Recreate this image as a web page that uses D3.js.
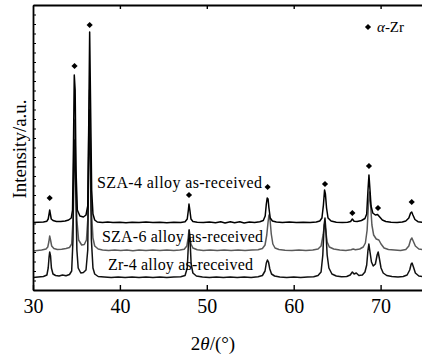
<!DOCTYPE html>
<html>
<head>
<meta charset="utf-8">
<script src="https://cdn.jsdelivr.net/npm/d3@7"></script>
<style>
  body { margin: 0; background: #fff; }
  svg text { font-family: "Liberation Serif", "Times New Roman", Times, serif; fill: #000; }
</style>
</head>
<body>
<svg id="chart" width="422" height="360"></svg>
<script>
// x ticks (2theta, degrees)
var xTicks = [30, 40, 50, 60, 70];

// XRD traces, [2theta, intensity (stacked, a.u.)]
var sza4 = [[30.0,67.5],[30.6,67.8],[31.2,68],[31.6,68.8],[31.75,71],[31.85,76],[31.92,80],[32.0,76],[32.1,71],[32.3,69.5],[32.7,68.5],[33.2,68.5],[33.7,69],[34.1,70],[34.4,72],[34.55,80],[34.65,140],[34.75,215],[34.85,200],[34.95,120],[35.1,80],[35.4,74],[35.8,73],[36.1,75],[36.3,84],[36.42,170],[36.52,258],[36.62,190],[36.75,100],[36.9,76],[37.1,70],[37.4,68],[38,67.5],[38.6,68],[39.2,67.4],[40,67.8],[40.7,67.3],[41.4,67.8],[42.2,67.4],[43,67.9],[43.8,67.4],[44.6,67.8],[45.4,67.3],[46.2,67.8],[47,67.6],[47.5,68.3],[47.75,71],[47.88,80],[47.95,86],[48.05,80],[48.18,71],[48.4,68.5],[48.9,67.8],[49.6,67.4],[50.3,67.9],[51,67.2],[51.6,68.2],[52.1,67.1],[52.7,68.3],[53.2,67.2],[53.8,68.2],[54.3,67.1],[54.9,67.9],[55.5,67.5],[56.1,68.2],[56.5,69.5],[56.72,74],[56.85,86],[56.95,92],[57.05,91],[57.15,82],[57.3,72],[57.55,69],[58,68],[58.7,67.5],[59.5,67.9],[60.3,67.4],[61.1,67.8],[61.9,67.5],[62.6,68],[63.0,69],[63.25,72],[63.42,85],[63.55,100],[63.65,96],[63.78,82],[63.95,72],[64.3,69],[64.9,67.8],[65.6,67.5],[66.2,67.8],[66.55,68.5],[66.75,71],[66.95,68.8],[67.3,68.5],[67.8,69.5],[68.2,71.5],[68.4,76],[68.55,100],[68.66,115],[68.78,100],[68.9,84],[69.1,77],[69.4,75],[69.65,75.5],[69.9,73],[70.2,70],[70.6,68.5],[71.2,67.8],[71.9,67.5],[72.5,68],[72.9,69],[73.25,72],[73.45,77],[73.58,78],[73.72,75],[73.95,70.5],[74.3,68.3],[74.8,67.8],[75,67.6]];

var sza6 = [[30,39],[30.5,39.5],[31,40],[31.5,41],[31.7,43],[31.82,48],[31.92,54],[32.02,50],[32.15,44],[32.4,41.5],[32.8,40.5],[33.3,40.8],[33.8,41.5],[34.2,42.5],[34.45,46],[34.6,70],[34.72,150],[34.8,170],[34.9,130],[35.05,70],[35.25,50],[35.6,45],[35.9,45.5],[36.15,50],[36.3,70],[36.42,160],[36.5,200],[36.6,150],[36.72,80],[36.9,52],[37.1,44],[37.5,41],[38,40],[38.7,39.6],[39.4,40.1],[40.1,39.5],[40.8,40],[41.5,39.3],[42.2,39.9],[43,39.4],[43.8,40],[44.6,39.4],[45.4,39.9],[46.2,39.5],[46.9,40],[47.4,40.8],[47.7,44],[47.85,52],[47.95,60],[48.05,54],[48.18,46],[48.4,42],[48.9,40.2],[49.6,39.6],[50.4,40],[51.2,39.4],[52,40.1],[52.8,39.5],[53.6,40],[54.4,39.4],[55.2,39.9],[55.9,40.3],[56.4,41.5],[56.7,45],[56.9,55],[57.05,68],[57.15,75],[57.28,70],[57.42,56],[57.6,46],[57.85,42],[58.3,40.5],[59,39.8],[59.8,39.5],[60.6,40],[61.4,39.5],[62.2,40],[62.8,41],[63.15,44],[63.38,55],[63.55,66],[63.68,60],[63.85,48],[64.1,43],[64.6,41],[65.3,40],[66,39.6],[66.6,40.2],[66.85,41],[67.1,40.3],[67.6,41],[68.0,43],[68.25,47],[68.45,60],[68.6,85],[68.72,98],[68.85,85],[69.0,65],[69.2,55],[69.5,51],[69.8,50],[70.05,46],[70.4,42],[70.9,40.5],[71.6,40],[72.3,39.6],[72.9,40.5],[73.25,44],[73.45,50],[73.6,52],[73.75,49],[74,44],[74.4,41],[75,40]];

var zr4 = [[30,12.5],[30.6,13],[31.2,13.5],[31.6,15],[31.75,22],[31.85,33],[31.92,38],[32.02,34],[32.12,22],[32.3,16],[32.6,14.5],[33,14],[33.4,15],[33.8,14.2],[34.2,15.5],[34.45,19],[34.6,50],[34.72,130],[34.8,150],[34.9,110],[35.05,40],[35.2,22],[35.5,17],[35.8,17.5],[36.1,20],[36.3,40],[36.42,140],[36.5,180],[36.6,130],[36.72,50],[36.9,22],[37.1,16],[37.5,13.5],[38.2,13],[39,12.5],[39.8,13],[40.6,12.4],[41.4,12.9],[42.2,12.4],[43,13],[43.8,12.5],[44.6,12.9],[45.4,12.4],[46.2,12.9],[47,13.2],[47.5,14.5],[47.75,22],[47.88,45],[47.98,60],[48.08,48],[48.2,26],[48.4,17],[48.8,14],[49.5,13],[50.3,12.6],[51.1,13],[51.9,12.4],[52.7,12.9],[53.5,12.5],[54.3,12.9],[55.1,12.4],[55.9,13.2],[56.4,14.5],[56.7,19],[56.85,27],[56.98,30],[57.1,28],[57.25,21],[57.45,16],[57.8,14],[58.4,13],[59.2,12.6],[60,13],[60.8,12.5],[61.6,12.9],[62.3,13.2],[62.8,14.5],[63.15,18],[63.35,35],[63.5,65],[63.6,72],[63.7,60],[63.85,35],[64.05,22],[64.4,16],[64.9,14],[65.5,13.2],[66.1,13.5],[66.5,15],[66.75,18],[66.95,16],[67.2,17],[67.5,14.5],[67.9,15],[68.2,18],[68.4,25],[68.55,40],[68.65,46],[68.78,38],[68.95,28],[69.15,24],[69.4,26],[69.6,35],[69.72,38],[69.85,32],[70.05,22],[70.3,17],[70.7,14.5],[71.3,13.5],[72,13],[72.6,13.5],[73.05,15],[73.35,20],[73.52,26],[73.62,27],[73.78,23],[74,17],[74.4,14],[75,13]];

// alpha-Zr peak markers above the SZA-4 trace
var peakMarks = [[31.92,92],[34.78,224],[36.52,265],[47.95,95],[57.0,103],[63.6,106],[66.75,77],[68.66,124],[69.7,82],[73.58,88]];

var seriesNames = ["SZA-4 alloy as-received", "SZA-6 alloy as-received", "Zr-4 alloy as-received"];
var labelAnchors = [[37.36,102],[37.94,48.3],[38.63,20]];
var labelWidths = [165, 161, 145];

var margin = { top: 5, left: 33, bottom: 70 };
var W = 422, H = 360;
var plotH = H - margin.top - margin.bottom;
var serif = '"Liberation Serif", "Times New Roman", Times, serif';

var x = d3.scaleLinear().domain([30, 75]).range([margin.left, margin.left + 45 * 8.69]);
var y = d3.scaleLinear().domain([0, 285]).range([H - margin.bottom, margin.top]);

var svg = d3.select("#chart");

svg.append("clipPath").attr("id", "clip")
  .append("rect")
  .attr("x", margin.left).attr("y", margin.top)
  .attr("width", W - margin.left).attr("height", plotH);

var line = d3.line().x(d => x(d[0])).y(d => y(d[1]));

var traces = [
  { data: sza6, color: "#5a5a5a" },
  { data: zr4, color: "#111" },
  { data: sza4, color: "#000" }
];

svg.append("g").attr("clip-path", "url(#clip)")
  .selectAll("path")
  .data(traces)
  .enter().append("path")
  .attr("d", d => line(d.data))
  .attr("fill", "none")
  .attr("stroke", d => d.color)
  .attr("stroke-width", 1.5)
  .attr("stroke-linejoin", "round");

// diamonds
var diamond = d3.symbol().type(d3.symbolSquare).size(19);
svg.append("g").selectAll("path")
  .data(peakMarks)
  .enter().append("path")
  .attr("d", diamond)
  .attr("transform", d => "translate(" + x(d[0]) + "," + y(d[1]) + ") rotate(45)")
  .attr("fill", "#000");

// trace labels
svg.append("g").selectAll("text")
  .data(seriesNames)
  .enter().append("text")
  .attr("x", (d, i) => x(labelAnchors[i][0]))
  .attr("y", (d, i) => y(labelAnchors[i][1]))
  .attr("textLength", (d, i) => labelWidths[i])
  .attr("lengthAdjust", "spacing")
  .style("font-family", serif)
  .style("font-size", "16px")
  .text(d => d);

// axes
var xBottom = d3.axisBottom(x).tickValues(xTicks).tickSize(-5).tickPadding(10).tickSizeOuter(0);
var gx = svg.append("g")
  .attr("transform", "translate(0," + (H - margin.bottom) + ")")
  .call(xBottom);
gx.attr("font-family", null);
gx.select(".domain").attr("stroke-width", 1.8);
gx.selectAll(".tick line").attr("stroke-width", 1.4);
gx.selectAll(".tick text")
  .style("font-family", serif)
  .style("font-size", "20px")
  .attr("y", 9);

var xTop = d3.axisTop(x).tickValues(xTicks.slice(1)).tickSize(-4).tickFormat("").tickSizeOuter(0);
var gt = svg.append("g")
  .attr("transform", "translate(0," + margin.top + ")")
  .call(xTop);
gt.select(".domain").attr("stroke-width", 1.8);
gt.selectAll(".tick line").attr("stroke-width", 1.4);

var yTicks = d3.range(0, 286, 9.5);
var gy = svg.append("g")
  .attr("transform", "translate(" + margin.left + ",0)")
  .call(d3.axisLeft(y).tickValues(yTicks).tickSize(-3).tickFormat("").tickSizeOuter(0));
gy.select(".domain").attr("stroke-width", 1.8);
gy.selectAll(".tick line").attr("stroke-width", 1);

// axis titles
var xt = svg.append("text")
  .attr("x", 213).attr("y", 350)
  .attr("text-anchor", "middle")
  .style("font-family", serif)
  .style("font-size", "19px");
xt.append("tspan").text("2");
xt.append("tspan").style("font-style", "italic").text("θ");
xt.append("tspan").text("/(°)");

svg.append("text")
  .attr("transform", "translate(26,149) rotate(-90)")
  .attr("text-anchor", "middle")
  .style("font-family", serif)
  .style("font-size", "19px")
  .text("Intensity/a.u.");

// legend
svg.append("path")
  .attr("d", diamond)
  .attr("transform", "translate(368,27) rotate(45)")
  .attr("fill", "#000");
var lg = svg.append("text")
  .attr("x", 377).attr("y", 32)
  .style("font-family", serif)
  .style("font-size", "15px");
lg.append("tspan").style("font-style", "italic").text("α");
lg.append("tspan").text("-Zr");
</script>
</body>
</html>
